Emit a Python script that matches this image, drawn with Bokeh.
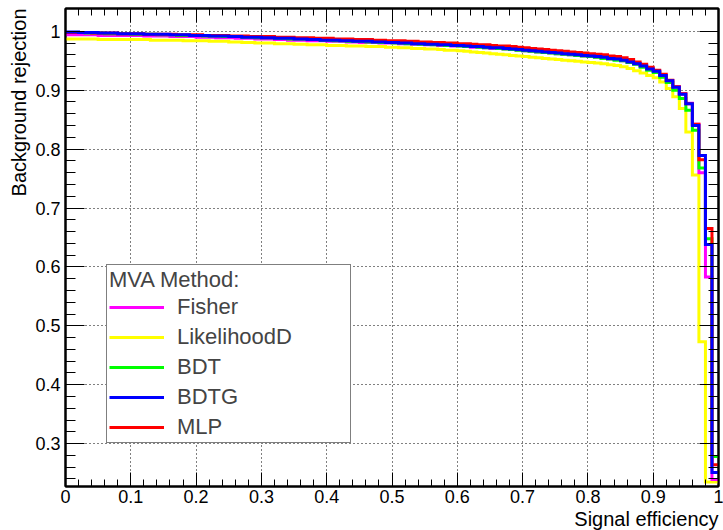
from bokeh.plotting import figure
from bokeh.models import (FixedTicker, Range1d, LinearAxis, Legend, LegendItem, Title,
                          CustomJSTickFormatter)
from bokeh.embed import file_html
from bokeh.resources import INLINE

# ---------------- data (100 bins of signal efficiency, width 0.01) ----------------
bin_edges = [round(i * 0.01, 2) for i in range(101)]

fisher = [
    0.994, 0.994, 0.994, 0.994, 0.994, 0.993, 0.993, 0.993, 0.993, 0.993,
    0.993, 0.993, 0.992, 0.992, 0.992, 0.992, 0.991, 0.991, 0.991, 0.991,
    0.990, 0.990, 0.990, 0.989, 0.989, 0.989, 0.988, 0.988, 0.988, 0.987,
    0.987, 0.987, 0.986, 0.986, 0.985, 0.985, 0.985, 0.984, 0.984, 0.984,
    0.983, 0.983, 0.983, 0.982, 0.982, 0.981, 0.981, 0.981, 0.980, 0.980,
    0.980, 0.979, 0.979, 0.978, 0.978, 0.977, 0.977, 0.976, 0.976, 0.975,
    0.975, 0.974, 0.973, 0.973, 0.972, 0.971, 0.971, 0.970, 0.969, 0.968,
    0.967, 0.966, 0.965, 0.964, 0.963, 0.962, 0.961, 0.960, 0.959, 0.958,
    0.957, 0.956, 0.955, 0.953, 0.952, 0.950, 0.948, 0.945, 0.941, 0.936,
    0.932, 0.925, 0.916, 0.906, 0.894, 0.878, 0.842, 0.760, 0.583, 0.239,
]
likelihood_d = [
    0.987, 0.987, 0.987, 0.987, 0.987, 0.986, 0.986, 0.986, 0.986, 0.986,
    0.986, 0.986, 0.986, 0.985, 0.985, 0.985, 0.985, 0.985, 0.984, 0.984,
    0.984, 0.984, 0.983, 0.983, 0.983, 0.982, 0.982, 0.981, 0.981, 0.980,
    0.980, 0.980, 0.979, 0.979, 0.979, 0.978, 0.978, 0.977, 0.977, 0.977,
    0.976, 0.976, 0.976, 0.975, 0.975, 0.975, 0.974, 0.974, 0.974, 0.973,
    0.973, 0.972, 0.972, 0.971, 0.971, 0.970, 0.970, 0.969, 0.968, 0.968,
    0.967, 0.966, 0.965, 0.964, 0.963, 0.962, 0.961, 0.960, 0.959, 0.958,
    0.957, 0.956, 0.955, 0.954, 0.953, 0.952, 0.951, 0.950, 0.949, 0.948,
    0.947, 0.946, 0.945, 0.943, 0.942, 0.940, 0.937, 0.933, 0.929, 0.925,
    0.921, 0.914, 0.903, 0.889, 0.869, 0.829, 0.756, 0.473, 0.235, 0.235,
]
bdt = [
    0.998, 0.998, 0.998, 0.997, 0.997, 0.997, 0.996, 0.996, 0.996, 0.996,
    0.995, 0.995, 0.995, 0.995, 0.994, 0.994, 0.994, 0.993, 0.993, 0.993,
    0.993, 0.992, 0.992, 0.992, 0.991, 0.991, 0.991, 0.990, 0.990, 0.989,
    0.989, 0.989, 0.988, 0.988, 0.987, 0.987, 0.987, 0.986, 0.986, 0.985,
    0.985, 0.984, 0.984, 0.983, 0.983, 0.983, 0.982, 0.982, 0.981, 0.981,
    0.980, 0.980, 0.979, 0.979, 0.978, 0.978, 0.977, 0.977, 0.976, 0.976,
    0.975, 0.974, 0.974, 0.973, 0.972, 0.972, 0.971, 0.970, 0.969, 0.968,
    0.967, 0.966, 0.965, 0.964, 0.963, 0.962, 0.961, 0.960, 0.959, 0.958,
    0.957, 0.956, 0.954, 0.953, 0.951, 0.950, 0.947, 0.944, 0.939, 0.934,
    0.930, 0.922, 0.913, 0.900, 0.886, 0.866, 0.832, 0.768, 0.648, 0.278,
]
bdtg = [
    0.999, 0.999, 0.998, 0.998, 0.998, 0.997, 0.997, 0.997, 0.996, 0.996,
    0.996, 0.996, 0.995, 0.995, 0.995, 0.995, 0.994, 0.994, 0.994, 0.993,
    0.993, 0.993, 0.992, 0.992, 0.992, 0.991, 0.991, 0.990, 0.990, 0.990,
    0.989, 0.989, 0.988, 0.988, 0.988, 0.987, 0.987, 0.986, 0.986, 0.985,
    0.985, 0.985, 0.984, 0.984, 0.983, 0.983, 0.983, 0.982, 0.982, 0.981,
    0.981, 0.980, 0.980, 0.979, 0.979, 0.978, 0.978, 0.977, 0.977, 0.976,
    0.976, 0.975, 0.974, 0.974, 0.973, 0.972, 0.972, 0.971, 0.970, 0.969,
    0.968, 0.967, 0.966, 0.965, 0.964, 0.963, 0.962, 0.961, 0.960, 0.959,
    0.958, 0.957, 0.956, 0.954, 0.953, 0.951, 0.948, 0.945, 0.941, 0.936,
    0.932, 0.925, 0.916, 0.905, 0.893, 0.877, 0.840, 0.789, 0.638, 0.251,
]
mlp = [
    0.998, 0.998, 0.998, 0.998, 0.997, 0.997, 0.997, 0.997, 0.996, 0.996,
    0.996, 0.996, 0.995, 0.995, 0.995, 0.995, 0.995, 0.994, 0.994, 0.994,
    0.994, 0.993, 0.993, 0.993, 0.993, 0.992, 0.992, 0.992, 0.991, 0.991,
    0.991, 0.991, 0.990, 0.990, 0.990, 0.989, 0.989, 0.989, 0.988, 0.988,
    0.988, 0.987, 0.987, 0.987, 0.986, 0.986, 0.986, 0.985, 0.985, 0.984,
    0.984, 0.984, 0.983, 0.983, 0.982, 0.982, 0.981, 0.981, 0.980, 0.980,
    0.979, 0.979, 0.978, 0.977, 0.977, 0.976, 0.975, 0.975, 0.974, 0.973,
    0.972, 0.971, 0.970, 0.969, 0.968, 0.967, 0.966, 0.965, 0.964, 0.963,
    0.962, 0.961, 0.960, 0.958, 0.957, 0.955, 0.952, 0.948, 0.944, 0.939,
    0.934, 0.927, 0.917, 0.906, 0.894, 0.877, 0.842, 0.782, 0.665, 0.264,
]

method_names = ["Fisher", "LikelihoodD", "BDT", "BDTG", "MLP"]
method_values = [fisher, likelihood_d, bdt, bdtg, mlp]
method_colors = ["#ff00ff", "#ffff00", "#00ff00", "#0000ff", "#ff0000"]
draw_order = ["LikelihoodD", "Fisher", "BDT", "MLP", "BDTG"]

x_ticks = [0.0, 0.1, 0.2, 0.3, 0.4, 0.5, 0.6, 0.7, 0.8, 0.9, 1.0]
x_tick_labels = ["0", "0.1", "0.2", "0.3", "0.4", "0.5", "0.6", "0.7", "0.8", "0.9", "1"]
y_ticks = [0.3, 0.4, 0.5, 0.6, 0.7, 0.8, 0.9, 1.0]
y_tick_labels = ["0.3", "0.4", "0.5", "0.6", "0.7", "0.8", "0.9", "1"]
x_title = "Signal efficiency"
y_title = "Background rejection"
legend_title = "MVA Method:"

FONT = "Liberation Sans"

x_minor = [round(i * 0.02, 2) for i in range(51)]
y_minor = [round(0.24 + i * 0.02, 2) for i in range(39)]

p = figure(width=723, height=530, output_backend="svg", toolbar_location=None,
           x_range=Range1d(0, 1), y_range=Range1d(0.2272, 1.0387),
           min_border_left=65, min_border_right=5, min_border_top=8, min_border_bottom=44,
           background_fill_color="white", border_fill_color="white")
p.outline_line_color = "black"
p.outline_line_width = 2

xt = FixedTicker(ticks=x_ticks, minor_ticks=x_minor)
yt = FixedTicker(ticks=y_ticks, minor_ticks=y_minor)


def style_axis(ax, major_in, minor_in):
    ax.axis_line_color = "black"
    ax.axis_line_width = 2
    ax.major_tick_in = major_in
    ax.major_tick_out = 0
    ax.minor_tick_in = minor_in
    ax.minor_tick_out = 0
    ax.major_tick_line_color = "black"
    ax.minor_tick_line_color = "black"
    ax.major_tick_line_width = 1
    ax.minor_tick_line_width = 1
    ax.major_label_text_font = FONT
    ax.major_label_text_color = "black"


xa = p.xaxis[0]
xa.ticker = xt
style_axis(xa, 14, 7)
xa.major_label_text_font_size = "18px"
xa.major_label_standoff = 3
xa.major_label_overrides = dict(zip(x_ticks, x_tick_labels))

ya = p.yaxis[0]
ya.ticker = yt
style_axis(ya, 19, 10)
ya.major_label_text_font_size = "18px"
ya.major_label_standoff = 5
ya.major_label_overrides = dict(zip(y_ticks, y_tick_labels))

blank = CustomJSTickFormatter(code="return ''")
top = LinearAxis(ticker=xt, formatter=blank, major_label_text_font_size="0px",
                 major_label_standoff=0)
style_axis(top, 14, 7)
p.add_layout(top, "above")
right = LinearAxis(ticker=yt, formatter=blank, major_label_text_font_size="0px",
                   major_label_standoff=0)
style_axis(right, 19, 10)
p.add_layout(right, "right")

for g in (p.xgrid[0], p.ygrid[0]):
    g.grid_line_color = "black"
    g.grid_line_dash = "1 3"
    g.grid_line_width = 1
p.xgrid[0].ticker = xt
p.ygrid[0].ticker = yt

renderers = {}
for name in draw_order:
    i = method_names.index(name)
    vals = method_values[i]
    r = p.step(x=bin_edges, y=vals + [vals[-1]], mode="after",
               line_width=3, line_color=method_colors[i], line_join="miter")
    renderers[name] = r

items = [LegendItem(label=n, renderers=[renderers[n]]) for n in method_names]
legend = Legend(items=items, location=(41, 43), title=legend_title,
                title_text_font=FONT, title_text_font_size="22px", title_text_font_style="normal",
                title_standoff=1,
                label_text_font=FONT, label_text_font_size="22px",
                glyph_width=55, glyph_height=24, label_height=24, spacing=4,
                label_standoff=13, label_width=171, padding=2, margin=0,
                border_line_color="black", border_line_width=1,
                background_fill_color="white", background_fill_alpha=1.0)
p.add_layout(legend)

p.add_layout(Title(text=x_title, align="right", vertical_align="bottom", standoff=0,
                   text_font=FONT, text_font_size="20px", text_font_style="normal",
                   text_color="black"), "below")
p.add_layout(Title(text=y_title, align="right", vertical_align="bottom", standoff=6,
                   text_font=FONT, text_font_size="20px", text_font_style="normal",
                   text_color="black"), "left")

open("out.html", "w").write(file_html(p, INLINE))
